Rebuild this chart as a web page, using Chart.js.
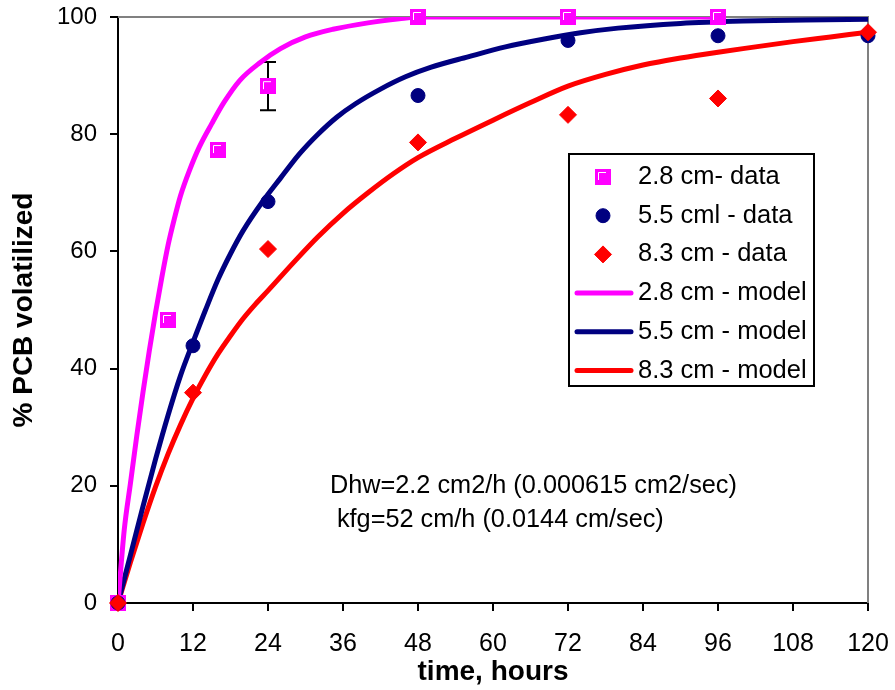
<!DOCTYPE html>
<html>
<head>
<meta charset="utf-8">
<title>PCB volatilization</title>
<script src="https://cdn.jsdelivr.net/npm/chart.js@4.4.1/dist/chart.umd.min.js"></script>
<style>
    html, body { margin: 0; padding: 0; background: #ffffff; }
    #wrap { width: 895px; height: 690px; position: relative; }
</style>
</head>
<body>
<div id="wrap"><canvas id="pcbChart" width="895" height="690"></canvas></div>
<script>
// --- 1. DATA ---
const xTicks = [0, 12, 24, 36, 48, 60, 72, 84, 96, 108, 120];
const yTicks = [0, 20, 40, 60, 80, 100];

// measured points
const time28 = [0, 8, 16, 24, 48, 72, 96];
const data28 = [0, 48.3, 77.3, 88.2, 100, 100, 100];
const err28 = [0, 0, 1.1, 4.1, 0, 0, 0];

const time55 = [0, 12, 24, 48, 72, 96, 120];
const data55 = [0, 43.9, 68.5, 86.6, 96.0, 96.8, 96.8];

const time83 = [0, 12, 24, 48, 72, 96, 120];
const data83 = [0, 35.9, 60.4, 78.6, 83.3, 86.1, 97.4];

// model curves
const modelTime28 = [0, 1, 2, 3, 4, 5, 6, 7, 8, 9, 10, 11.5, 13, 15, 17, 19.5, 22.7, 26, 30, 34.4, 40, 45, 48, 60, 72, 84, 96];
const model28 = [0, 12.5, 20.5, 28.5, 36, 43, 49.5, 55.5, 61, 65.5, 69.5, 74, 77.8, 81.8, 85.5, 89.2, 92.2, 94.6, 96.6, 97.9, 99.0, 99.7, 100, 100, 100, 100, 100];

const modelTime55 = [0, 2, 4, 6, 8, 10, 12, 14, 16, 18, 20, 23, 26, 29, 32, 35, 38, 42, 46, 50, 56, 62, 68, 74, 80, 90, 100, 110, 120];
const model55 = [0, 8.2, 16.5, 24.5, 32, 38.8, 44.5, 50, 55.2, 59.6, 63.5, 68.3, 72.5, 76.6, 80, 82.9, 85.2, 87.7, 89.8, 91.4, 93.2, 94.9, 96.2, 97.3, 98.1, 98.9, 99.3, 99.5, 99.6];

const modelTime83 = [0, 2, 4, 6, 8, 10, 12, 14, 16, 18, 20, 22, 24, 28, 32, 36, 40, 44, 48, 54, 60, 66, 72, 78, 84, 90, 96, 102, 108, 114, 120];
const model83 = [0, 7, 13.6, 19.8, 25.4, 30.4, 34.9, 38.9, 42.5, 45.6, 48.5, 51.0, 53.3, 58, 62.5, 66.5, 70, 73.2, 76, 79.3, 82.4, 85.4, 88.2, 90.2, 91.8, 93.0, 94.0, 94.9, 95.8, 96.6, 97.4];

const legendLabels = ['2.8 cm- data', '5.5 cml - data', '8.3 cm - data', '2.8 cm - model', '5.5 cm - model', '8.3 cm - model'];
const noteLines = ['Dhw=2.2 cm2/h (0.000615 cm2/sec)', ' kfg=52 cm/h (0.0144 cm/sec)'];

// --- 2. STYLE ---
const FONT = "'Liberation Sans', Arial, Helvetica, sans-serif";
const MAGENTA = '#ff00ff';
const NAVY = '#000080';
const RED = '#ff0000';

Chart.defaults.font.family = FONT;
Chart.defaults.color = '#000000';

function toPoints(xs, ys) {
    return xs.map((x, i) => ({ x: x, y: ys[i] }));
}

// excel style square marker with the little white highlight
function squareMarker(size, color) {
    const c = document.createElement('canvas');
    c.width = size;
    c.height = size;
    const g = c.getContext('2d');
    g.fillStyle = color;
    g.fillRect(0, 0, size, size);
    g.strokeStyle = '#ffffff';
    g.lineWidth = 1;
    g.beginPath();
    g.moveTo(3.5, size - 5);
    g.lineTo(3.5, 3.5);
    g.lineTo(size - 5, 3.5);
    g.stroke();
    return c;
}
const squareImg = squareMarker(16, MAGENTA);

// --- 3. PLUGINS ---
// grey top/right frame + error bars (under the series)
const framePlugin = {
    id: 'frame',
    beforeDatasetsDraw(chart) {
        const { ctx, chartArea: a, scales: { x, y } } = chart;
        ctx.save();
        ctx.strokeStyle = '#808080';
        ctx.lineWidth = 2;
        ctx.beginPath();
        ctx.moveTo(a.left, a.top);
        ctx.lineTo(a.right, a.top);
        ctx.lineTo(a.right, a.bottom);
        ctx.stroke();

        ctx.strokeStyle = '#000000';
        ctx.lineWidth = 2;
        time28.forEach((t, i) => {
            const e = err28[i];
            if (!e) return;
            const px = x.getPixelForValue(t);
            const top = y.getPixelForValue(data28[i] + e);
            const bot = y.getPixelForValue(data28[i] - e);
            ctx.beginPath();
            ctx.moveTo(px, top);
            ctx.lineTo(px, bot);
            ctx.moveTo(px - 8, top);
            ctx.lineTo(px + 8, top);
            ctx.moveTo(px - 8, bot);
            ctx.lineTo(px + 8, bot);
            ctx.stroke();
        });
        ctx.restore();
    }
};

// boxed legend inside the plot + parameter note
const notePlugin = {
    id: 'note',
    afterDraw(chart) {
        const { ctx, scales: { x, y } } = chart;
        ctx.save();

        // parameter text
        ctx.font = '25.3px ' + FONT;
        ctx.fillStyle = '#000000';
        ctx.textAlign = 'left';
        ctx.textBaseline = 'alphabetic';
        ctx.fillText(noteLines[0], x.getPixelForValue(33.9), y.getPixelForValue(18.8));
        ctx.fillText(noteLines[1], x.getPixelForValue(33.9), y.getPixelForValue(13.0));

        // legend box
        const box = { left: 569, top: 154, width: 245, height: 232 };
        ctx.fillStyle = '#ffffff';
        ctx.fillRect(box.left, box.top, box.width, box.height);
        ctx.strokeStyle = '#000000';
        ctx.lineWidth = 2;
        ctx.strokeRect(box.left, box.top, box.width, box.height);

        const symX = box.left + 34;
        const textX = box.left + 69;
        const rowY0 = box.top + 23;
        const rowStep = 38.7;
        const ds = chart.data.datasets;
        const order = [2, 1, 0, 3, 4, 5]; // dataset index for each legend row

        legendLabels.forEach((label, i) => {
            const d = ds[order[i]];
            const cy = rowY0 + i * rowStep;
            if (d.showLine) {
                ctx.strokeStyle = d.borderColor;
                ctx.lineWidth = 5;
                ctx.lineCap = 'round';
                ctx.beginPath();
                ctx.moveTo(box.left + 8, cy);
                ctx.lineTo(box.left + 62, cy);
                ctx.stroke();
            } else if (d.pointStyle === squareImg) {
                ctx.drawImage(squareImg, symX - 8, cy - 8);
            } else {
                ctx.fillStyle = d.backgroundColor;
                ctx.strokeStyle = d.borderColor;
                ctx.lineWidth = d.borderWidth;
                ctx.beginPath();
                if (d.pointStyle === 'circle') {
                    ctx.arc(symX, cy, d.pointRadius, 0, Math.PI * 2);
                } else {
                    const r = d.pointRadius;
                    ctx.moveTo(symX - r, cy);
                    ctx.lineTo(symX, cy - r);
                    ctx.lineTo(symX + r, cy);
                    ctx.lineTo(symX, cy + r);
                    ctx.closePath();
                }
                ctx.fill();
                ctx.stroke();
            }
            ctx.fillStyle = '#000000';
            ctx.font = '25.5px ' + FONT;
            ctx.textBaseline = 'middle';
            ctx.fillText(label, textX, cy);
        });
        ctx.restore();
    }
};

// --- 4. CHART ---
const modelLine = (label, xs, ys, color) => ({
    label: label,
    data: toPoints(xs, ys),
    showLine: true,
    borderColor: color,
    backgroundColor: color,
    borderWidth: 5,
    borderCapStyle: 'round',
    borderJoinStyle: 'round',
    pointRadius: 0,
    cubicInterpolationMode: 'monotone',
    fill: false
});

const ctx = document.getElementById('pcbChart').getContext('2d');
new Chart(ctx, {
    type: 'scatter',
    data: {
        datasets: [
            // drawn last = on top, so markers come first
            {
                label: legendLabels[2],
                data: toPoints(time83, data83),
                pointStyle: 'rectRot',
                pointRadius: 8.5,
                backgroundColor: RED,
                borderColor: RED,
                borderWidth: 1,
                clip: false
            },
            {
                label: legendLabels[1],
                data: toPoints(time55, data55),
                pointStyle: 'circle',
                pointRadius: 7,
                backgroundColor: NAVY,
                borderColor: NAVY,
                borderWidth: 1,
                clip: false
            },
            {
                label: legendLabels[0],
                data: toPoints(time28, data28),
                pointStyle: squareImg,
                pointRadius: 8,
                backgroundColor: MAGENTA,
                borderColor: MAGENTA,
                borderWidth: 0,
                clip: false
            },
            modelLine(legendLabels[3], modelTime28, model28, MAGENTA),
            modelLine(legendLabels[4], modelTime55, model55, NAVY),
            modelLine(legendLabels[5], modelTime83, model83, RED)
        ]
    },
    options: {
        responsive: false,
        animation: false,
        devicePixelRatio: 1,
        layout: { padding: { left: 0, top: 17, right: 27, bottom: 0 } },
        plugins: {
            legend: { display: false },
            tooltip: { enabled: false }
        },
        scales: {
            x: {
                type: 'linear',
                min: 0,
                max: 120,
                afterBuildTicks: (s) => { s.ticks = xTicks.map(v => ({ value: v })); },
                afterFit: (s) => {
                    s.height = 87;
                    s.paddingLeft = 0;
                    s.paddingRight = 0;
                },
                ticks: {
                    font: { size: 25 },
                    color: '#000000',
                    padding: 18,
                    maxRotation: 0,
                    autoSkip: false
                },
                grid: {
                    drawOnChartArea: false,
                    drawTicks: true,
                    tickLength: 8,
                    color: '#000000',
                    lineWidth: 2
                },
                border: { color: '#000000', width: 2 },
                title: {
                    display: true,
                    text: 'time, hours',
                    color: '#000000',
                    font: { size: 28, weight: 'bold' },
                    padding: { top: 0, bottom: 1 }
                }
            },
            y: {
                type: 'linear',
                min: 0,
                max: 100,
                afterBuildTicks: (s) => { s.ticks = yTicks.map(v => ({ value: v })); },
                afterFit: (s) => {
                    s.width = 118;
                    s.paddingTop = 0;
                    s.paddingBottom = 0;
                },
                ticks: {
                    font: { size: 24 },
                    color: '#000000',
                    padding: 13
                },
                grid: {
                    drawOnChartArea: false,
                    drawTicks: true,
                    tickLength: 8,
                    color: '#000000',
                    lineWidth: 2
                },
                border: { color: '#000000', width: 2 },
                title: {
                    display: true,
                    text: '% PCB volatilized',
                    color: '#000000',
                    font: { size: 28, weight: 'bold' },
                    padding: { top: 7, bottom: 0 }
                }
            }
        }
    },
    plugins: [framePlugin, notePlugin]
});
</script>
</body>
</html>
